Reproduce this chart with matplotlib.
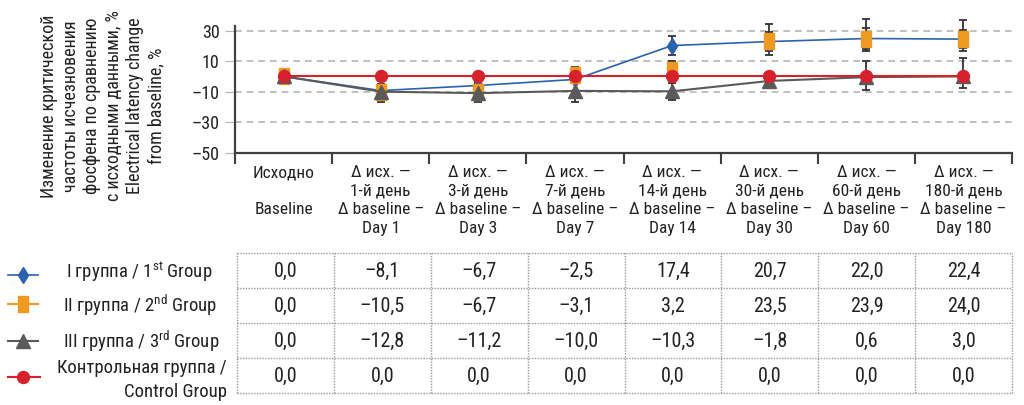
import numpy as np
import matplotlib
matplotlib.use('Agg')
import matplotlib.pyplot as plt
import matplotlib.path as mpath

fam = 'Roboto Condensed'
plt.rcParams['font.family'] = [fam, 'PT Sans Narrow', 'DejaVu Sans']
plt.rcParams['mathtext.fontset'] = 'custom'
plt.rcParams['mathtext.rm'] = fam
plt.rcParams['mathtext.it'] = fam

# categories
cat_labels = ['Исходно\n\nBaseline',
              'Δ исх. —\n1-й день\nΔ baseline –\nDay 1',
              'Δ исх. —\n3-й день\nΔ baseline –\nDay 3',
              'Δ исх. —\n7-й день\nΔ baseline –\nDay 7',
              'Δ исх. —\n14-й день\nΔ baseline –\nDay 14',
              'Δ исх. —\n30-й день\nΔ baseline –\nDay 30',
              'Δ исх. —\n60-й день\nΔ baseline –\nDay 60',
              'Δ исх. —\n180-й день\nΔ baseline –\nDay 180']

# values as plotted
g1_plot = [0, -9.3, -6.0, -2.0, 20.2, 22.8, 24.8, 24.4]
g2_plot = [0, -10.0, -10.5, 1.0, 4.5, 23.3, 24.5, 24.3]
g3_plot = [0, -10.0, -11.0, -9.5, -9.8, -3.0, -0.5, 0.0]
ctrl_plot = [0, 0, 0, 0, 0, 0, 0, 0]

# error bars (lower, upper)
g1_err_lo = [0, 0, 0, 0, 6.2, 6.5, 6.6, 6.0]
g1_err_hi = [0, 0, 2.0, 0, 6.2, 6.5, 6.6, 6.0]
g2_err_lo = [0, 5, 5, 5, 5, 9.3, 8.2, 7.6]
g2_err_hi = [0, 5, 5, 5.3, 5.7, 11.3, 13.1, 12.7]
g3_err_lo = [0, 7.0, 6.0, 7.5, 5.5, 2.0, 8.5, 7.8]
g3_err_hi = [0, 7.0, 6.0, 7.5, 5.5, 2.0, 10.5, 11.8]

# table values
g1_tab = [0.0, -8.1, -6.7, -2.5, 17.4, 20.7, 22.0, 22.4]
g2_tab = [0.0, -10.5, -6.7, -3.1, 3.2, 23.5, 23.9, 24.0]
g3_tab = [0.0, -12.8, -11.2, -10.0, -10.3, -1.8, 0.6, 3.0]
ctrl_tab = [0.0, 0.0, 0.0, 0.0, 0.0, 0.0, 0.0, 0.0]

yticks = [30, 10, -10, -30, -50]

c_blue = '#2a62b0'
c_orange = '#ee9a22'
c_grey = '#5a5a5a'
c_red = '#d7212d'
c_err = '#333333'
c_axis = '#404040'
c_text = '#222222'

rect = mpath.Path([(-0.3, -0.5), (0.3, -0.5), (0.3, 0.5), (-0.3, 0.5), (-0.3, -0.5)], closed=True)


def dash(v):
    # en dash for negatives, as in the source
    return ('\u2013' + v.lstrip('-')) if v.startswith('-') else v


W, H = 1024, 405
fig = plt.figure(figsize=(W / 100, H / 100), dpi=100)

ax_l, ax_r, ax_t, ax_b = 235, 1012, 26, 152.7
ax = fig.add_axes([ax_l / W, (H - ax_b) / H, (ax_r - ax_l) / W, (ax_b - ax_t) / H])
x = np.arange(len(cat_labels))

# error bars behind markers
for vals, lo, hi in [(g2_plot, g2_err_lo, g2_err_hi), (g1_plot, g1_err_lo, g1_err_hi),
                     (g3_plot, g3_err_lo, g3_err_hi)]:
    eb = ax.errorbar(x, vals, yerr=[lo, hi], fmt='none', ecolor=c_err, elinewidth=1.3,
                     capsize=3, capthick=1.3, zorder=2)
    for art in eb.lines[1] + eb.lines[2]:
        art.set_clip_on(False)

ax.plot(x, g1_plot, color=c_blue, lw=1.2, marker='d', ms=8.6, zorder=3)
ax.plot(x, g2_plot, ls='none', marker=rect, ms=12.2, color=c_orange, zorder=4)
ax.plot(x, g3_plot, color=c_grey, lw=1.5, marker='^', ms=9.4, zorder=5)
ax.plot(x, ctrl_plot, color=c_red, lw=1.5, marker='o', ms=8.6, zorder=6)

ax.set_xlim(-0.5, 7.5)
ax.set_ylim(-50, 33)
ax.set_yticks(yticks)
ax.set_yticklabels([dash(str(v)) for v in yticks])
ax.yaxis.grid(True, ls=(0, (4, 3)), color='#b5b5b5', lw=1.2)
ax.set_axisbelow(True)
ax.tick_params(axis='y', length=7, color='#b5b5b5', labelsize=13, pad=4, labelcolor=c_text)
for s in ['top', 'right']:
    ax.spines[s].set_visible(False)
for s in ['left', 'bottom']:
    ax.spines[s].set_color(c_axis)
    ax.spines[s].set_linewidth(1.6)

ax.set_xticks(np.arange(-0.5, 8, 1))
ax.set_xticklabels([])
ax.set_xticks(x, minor=True)
ax.set_xticklabels(cat_labels, minor=True, fontsize=12.5, linespacing=1.3, color=c_text)
ax.tick_params(axis='x', which='major', length=8, width=1.5, color=c_axis)
ax.tick_params(axis='x', which='minor', length=0, pad=9)

# y label
ylab = ('Изменение критической\nчастоты исчезновения\nфосфена по сравнению\n'
        'с исходными данными, %\nElectrical latency change\nfrom baseline, %')
fig.text(103 / W, 1 - 106 / H, ylab, rotation=90, ha='center', va='center',
         multialignment='center', fontsize=13, linespacing=1.25, color=c_text)

# table
tb_t, tb_b = 253, 393
tab = fig.add_axes([237 / W, (H - tb_b) / H, (ax_r - 237) / W, (tb_b - tb_t) / H])
tab.set_xlim(-0.5, 7.5)
tab.set_ylim(3.5, -0.5)
tab.axis('off')
rows = [g1_tab, g2_tab, g3_tab, ctrl_tab]
for j in range(5):
    tab.axhline(j - 0.5, color='#9a9a9a', ls=(0, (1, 1)), lw=1, clip_on=False)
for j in range(9):
    tab.axvline(j - 0.5, color='#9a9a9a', ls=(0, (1, 1)), lw=1, clip_on=False)


def fmt(v):
    s = f'{abs(v):.1f}'.replace('.', ',')
    return ('\u2013' + s) if v < 0 else s


for i, r in enumerate(rows):
    for j, v in enumerate(r):
        tab.text(j, i + 0.03, fmt(v), ha='center', va='center', fontsize=14.5, color=c_text)

# legend
lg = fig.add_axes([0, (H - tb_b) / H, 235 / W, (tb_b - tb_t) / H])
lg.set_xlim(0, 235)
lg.set_ylim(tb_b, tb_t)
lg.axis('off')
leg_y = [275, 304, 341, 377]
lg.plot([8, 38], [leg_y[0]] * 2, color=c_blue, lw=1.2, clip_on=False)
lg.plot([23], [leg_y[0]], marker='d', ms=8.6, color=c_blue, clip_on=False)
lg.plot([8, 38], [leg_y[1]] * 2, color=c_orange, lw=1.5, clip_on=False)
lg.plot([23], [leg_y[1]], marker=rect, ms=12.2, color=c_orange, clip_on=False)
lg.plot([8, 38], [leg_y[2]] * 2, color=c_grey, lw=1.5, clip_on=False)
lg.plot([23], [leg_y[2]], marker='^', ms=9.4, color=c_grey, clip_on=False)
lg.plot([8, 40], [leg_y[3]] * 2, color=c_red, lw=1.5, clip_on=False)
lg.plot([23], [leg_y[3]], marker='o', ms=8.6, color=c_red, clip_on=False)

lg.text(139, 272, r'I группа / 1$^{\rm st}$ Group', ha='center', va='center', fontsize=13.5, color=c_text)
lg.text(140, 305, r'II группа / 2$^{\rm nd}$ Group', ha='center', va='center', fontsize=13.5, color=c_text)
lg.text(141.5, 341, r'III группа / 3$^{\rm rd}$ Group', ha='center', va='center', fontsize=13.5, color=c_text)
lg.text(227, 368, 'Контрольная группа /', ha='right', va='center', fontsize=13.5, color=c_text, clip_on=False)
lg.text(227, 392, 'Control Group', ha='right', va='center', fontsize=13.5, color=c_text, clip_on=False)

fig.savefig('out.png', dpi=100)
